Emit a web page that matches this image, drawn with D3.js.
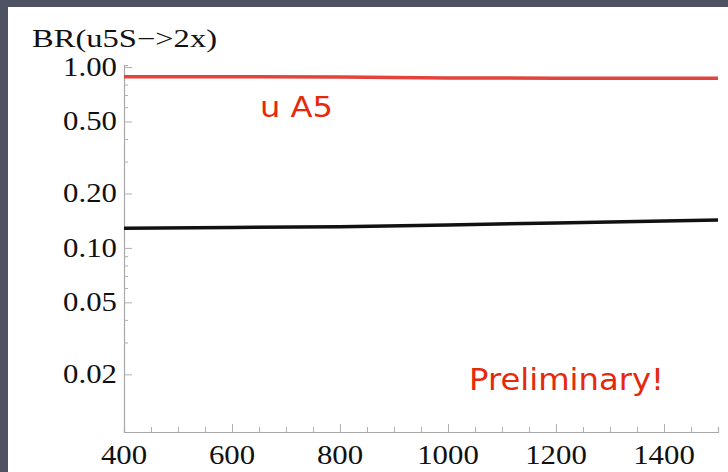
<!DOCTYPE html>
<html>
    <head>
        <script src="https://d3js.org/d3.v7.min.js"></script>
        <style>
            body { margin: 0; background: #4e5262; }
        </style>
    </head>
    <body>
        <div id="vis"></div>
        <script>
            // branching ratios
            massGeV = [400, 600, 800, 1000, 1200, 1400, 1500]
            brA5 = [0.884, 0.883, 0.880, 0.870, 0.867, 0.866, 0.866]
            brOther = [0.1285, 0.1298, 0.1310, 0.1338, 0.1374, 0.1410, 0.1428]
            xTicks = [400, 600, 800, 1000, 1200, 1400]
            yTicks = [0.02, 0.05, 0.1, 0.2, 0.5, 1]
            yMinor = [0.03, 0.04, 0.06, 0.07, 0.08, 0.09, 0.3, 0.4, 0.6, 0.7, 0.8, 0.9]

            width = 728
            height = 472
            margin = ({top: 65, right: 10, bottom: 40, left: 124})

            x = d3.scaleLinear([400, 1500], [margin.left, width - margin.right])
            y = d3.scaleLog([0.0096, 1.026], [height - margin.bottom, margin.top])

            const svg = d3.select("#vis")
                .append("svg")
                .attr("width", width)
                .attr("height", height)
                .style("display", "block")

            // white slide panel
            svg.append("rect")
                .attr("x", 8).attr("y", 7)
                .attr("width", width - 8).attr("height", height - 7)
                .attr("fill", "#fff")

            const serif = "'Liberation Serif', 'DejaVu Serif', serif"
            const stretch = (sel, k) => sel.each(function() {
                const len = this.getComputedTextLength()
                d3.select(this).attr("textLength", len * k).attr("lengthAdjust", "spacingAndGlyphs")
            })

            // x axis
            const xAxis = svg.append("g")
                .attr("transform", `translate(0,${height - margin.bottom})`)
                .call(d3.axisTop(x).tickValues(d3.range(400, 1501, 50)).tickSize(5).tickFormat(""))
            xAxis.select(".domain").attr("stroke", "#a8a8a8").attr("stroke-width", 1.2)
            xAxis.selectAll(".tick line").attr("stroke", "#b0b0b0")
                .attr("y2", d => xTicks.includes(d) ? -8 : -5)

            svg.append("g")
                .selectAll("text")
                .data(xTicks)
                .join("text")
                .attr("x", x)
                .attr("y", 464)
                .attr("text-anchor", "middle")
                .attr("font-family", serif)
                .attr("font-size", 28)
                .attr("fill", "#111")
                .text(d => d)
                .call(stretch, 1.1)

            // y axis
            const yAxis = svg.append("g")
                .attr("transform", `translate(${margin.left},0)`)
                .call(d3.axisRight(y).tickValues(yTicks.concat(yMinor)).tickSize(4).tickFormat(""))
            yAxis.select(".domain").attr("stroke", "#a8a8a8").attr("stroke-width", 1.2)
            yAxis.selectAll(".tick line").attr("stroke", "#b0b0b0")
                .attr("x2", d => yTicks.includes(d) ? 8 : 4)

            svg.append("g")
                .selectAll("text")
                .data(yTicks)
                .join("text")
                .attr("x", 117)
                .attr("y", d => y(d) + 9)
                .attr("text-anchor", "end")
                .attr("font-family", serif)
                .attr("font-size", 27)
                .attr("fill", "#111")
                .text(d => d.toFixed(2))
                .call(stretch, 1.14)

            svg.append("text")
                .attr("x", 32)
                .attr("y", 47)
                .attr("font-family", serif)
                .attr("font-size", 25)
                .attr("fill", "#111")
                .attr("textLength", 185)
                .attr("lengthAdjust", "spacingAndGlyphs")
                .text("BR(u5S\u2212>2x)")

            // curves
            line = d3.line()
                .x((d, i) => x(massGeV[i]))
                .y(d => y(d))

            svg.append("path")
                .datum(brA5)
                .attr("fill", "none")
                .attr("stroke", "#e2433b")
                .attr("stroke-width", 3.5)
                .attr("d", line)

            svg.append("path")
                .datum(brOther)
                .attr("fill", "none")
                .attr("stroke", "#111")
                .attr("stroke-width", 3.5)
                .attr("d", line)

            // annotations
            const hand = "'DejaVu Sans', 'Noto Sans', sans-serif"
            svg.append("text")
                .attr("x", 260).attr("y", 117)
                .attr("font-family", hand)
                .attr("font-size", 28)
                .attr("fill", "#e5290c")
                .attr("textLength", 73)
                .attr("lengthAdjust", "spacingAndGlyphs")
                .text("u A5")

            svg.append("text")
                .attr("x", 469).attr("y", 390)
                .attr("font-family", hand)
                .attr("font-size", 30)
                .attr("fill", "#e5290c")
                .attr("textLength", 195)
                .attr("lengthAdjust", "spacingAndGlyphs")
                .text("Preliminary!")
        </script>
    </body>
</html>
